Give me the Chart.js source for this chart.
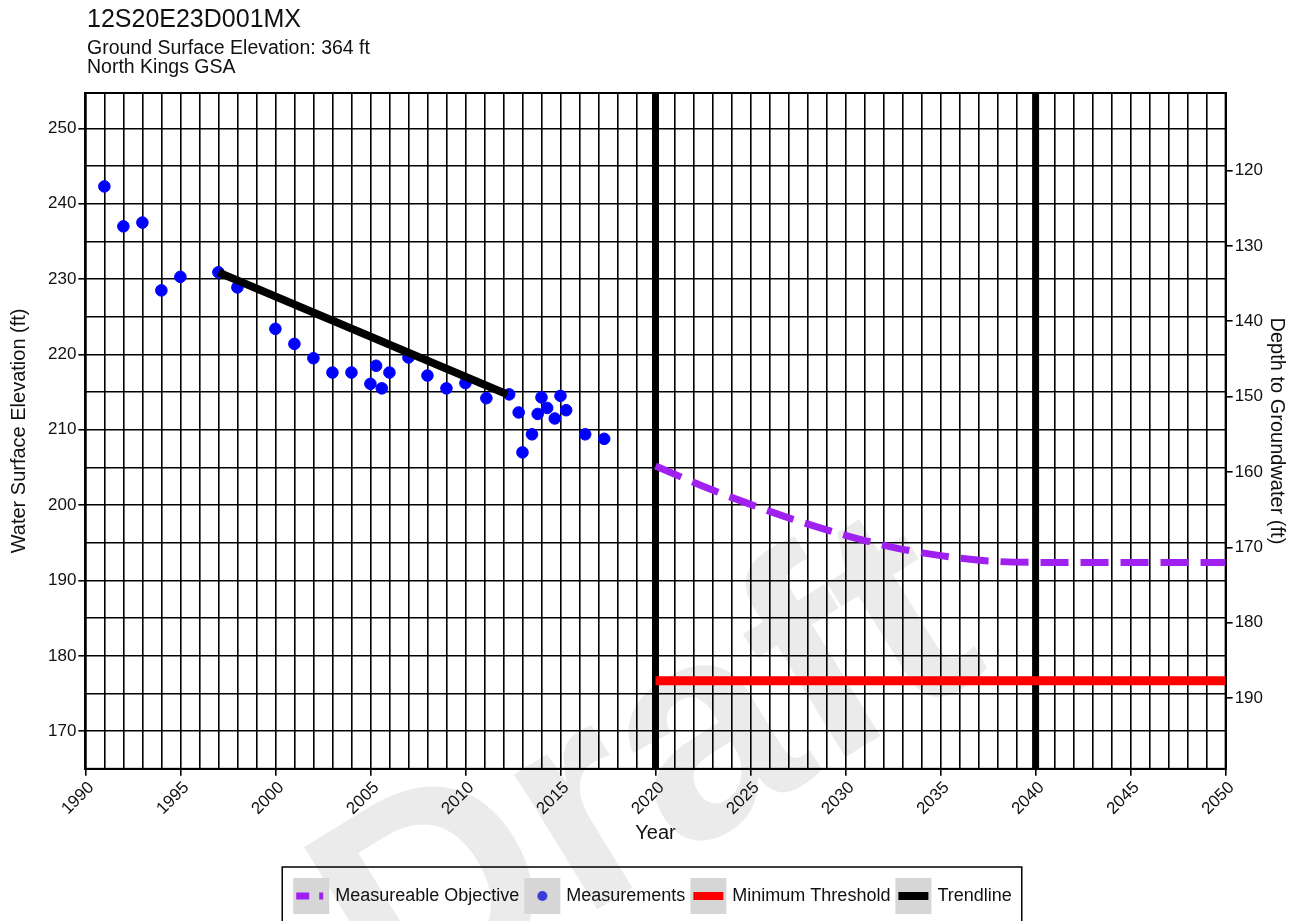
<!DOCTYPE html>
<html>
<head>
<meta charset="utf-8">
<script src="https://cdn.jsdelivr.net/npm/chart.js@4.4.1/dist/chart.umd.min.js"></script>
<style>
  body { margin: 0; background: #fff; }
  #wrap { position: relative; width: 1305px; height: 921px; overflow: hidden; }
  #title { position: absolute; left: 87px; top: 4px; font: 25px "Liberation Sans", Arial, sans-serif; color: #111; }
  #sub { position: absolute; left: 87px; top: 38px; font: 19.5px/19px "Liberation Sans", Arial, sans-serif; color: #111; }
</style>
</head>
<body>
<div id="wrap">
  <canvas id="chart1" width="1305" height="921"></canvas>
  <div id="title">12S20E23D001MX</div>
  <div id="sub">Ground Surface Elevation: 364 ft<br>North Kings GSA</div>
</div>
<script>
// data
var measYears = [1991, 1992, 1993, 1994, 1995, 1997, 1998, 2000, 2001, 2002, 2003, 2004, 2005, 2005.3, 2005.6, 2006, 2007, 2008, 2009, 2010, 2011.1, 2012.3, 2012.8, 2013, 2013.5, 2013.8, 2014, 2014.3, 2014.7, 2015, 2015.3, 2016.3, 2017.3];
var measValues = [242.3, 237.0, 237.5, 228.5, 230.3, 230.9, 228.9, 223.4, 221.4, 219.5, 217.6, 217.6, 216.1, 218.5, 215.5, 217.6, 219.6, 217.2, 215.5, 216.2, 214.2, 214.7, 212.3, 207.0, 209.4, 212.1, 214.3, 212.9, 211.5, 214.5, 212.6, 209.4, 208.8];

var objYears = [2020, 2022.5, 2025, 2027.5, 2030, 2032.5, 2035, 2037.5, 2040, 2045, 2050];
var objValues = [205.2, 202.5, 200.1, 197.9, 196.0, 194.4, 193.3, 192.6, 192.4, 192.4, 192.4];

var thresholdYears = [2020, 2050];
var thresholdValues = [176.7, 176.7];

var trendYears = [1997, 2012.2];
var trendValues = [230.9, 214.7];

var markerYears = [2020, 2040];

var yearMin = 1990, yearMax = 2050;
var elevMin = 165, elevMax = 254.7;
var groundElev = 364.4;
var depthTicks = [120, 130, 140, 150, 160, 170, 180, 190];

function pairs(xs, ys) {
	var out = [];
	for (var i = 0; i < xs.length; i++) {
		out.push({x: xs[i], y: ys[i]});
	}
	return out;
}

var FONT = "'Liberation Sans', Arial, sans-serif";

//small blue dot used as the legend symbol
var dotIcon = document.createElement("canvas");
dotIcon.width = 30;
dotIcon.height = 18;
(function() {
	var c = dotIcon.getContext("2d");
	c.fillStyle = "#3a3ad8";
	c.beginPath();
	c.arc(15, 9, 5, 0, Math.PI * 2);
	c.fill();
})();

//vertical lines for 2020 and 2040
var markerSets = markerYears.map(function(yr) {
	return {
		label: "marker",
		data: [{x: yr, y: elevMin}, {x: yr, y: elevMax}],
		showLine: true,
		borderColor: "#000",
		borderWidth: 7,
		pointRadius: 0,
		order: 4
	};
});

var extras = {
	id: "extras",
	beforeDraw: function(chart) {
		var ctx = chart.ctx;
		ctx.save();
		ctx.translate(650, 780);
		ctx.rotate(-0.55);
		ctx.font = "bold 300px " + FONT;
		ctx.fillStyle = "rgba(0,0,0,0.08)";
		ctx.textAlign = "center";
		ctx.textBaseline = "middle";
		ctx.fillText("Draft", 0, 0);
		ctx.restore();

		//gray squares behind legend symbols
		var legend = chart.legend;
		if (legend && legend.legendHitBoxes) {
			ctx.save();
			ctx.fillStyle = "#d6d6d6";
			legend.legendHitBoxes.forEach(function(b) {
				ctx.fillRect(b.left - 3, b.top + b.height / 2 - 18, 36, 36);
			});
			ctx.restore();
		}
	},
	beforeDatasetsDraw: function(chart) {
		var a = chart.chartArea;
		var ctx = chart.ctx;
		ctx.save();
		ctx.strokeStyle = "#000";
		ctx.lineWidth = 2;
		ctx.strokeRect(a.left, a.top, a.right - a.left, a.bottom - a.top);
		ctx.restore();
	},
	afterDraw: function(chart) {
		var legend = chart.legend;
		if (!legend || !legend.legendHitBoxes.length) return;
		var boxes = legend.legendHitBoxes;
		var l = boxes[0].left, r = 0, t = boxes[0].top, b = 0;
		boxes.forEach(function(h) {
			l = Math.min(l, h.left);
			r = Math.max(r, h.left + h.width);
			t = Math.min(t, h.top);
			b = Math.max(b, h.top + h.height);
		});
		var ctx = chart.ctx;
		ctx.save();
		ctx.strokeStyle = "#000";
		ctx.lineWidth = 1.5;
		ctx.strokeRect(l - 14, t - 20, (r - l) + 24, (b - t) + 42);
		ctx.restore();
	}
};

var ctx = document.getElementById("chart1");

var chart = new Chart(ctx, {
	type: "scatter",
	data: {
		datasets: [
			{
				label: "Measureable Objective",
				data: pairs(objYears, objValues),
				showLine: true,
				borderColor: "#a020f0",
				backgroundColor: "#a020f0",
				borderWidth: 7,
				borderDash: [28, 12],
				cubicInterpolationMode: "monotone",
				pointRadius: 0,
				order: 0
			},
			{
				label: "Measurements",
				data: pairs(measYears, measValues),
				backgroundColor: "#0000ff",
				borderColor: "#0000ff",
				pointRadius: 5.8,
				order: 3
			},
			{
				label: "Minimum Threshold",
				data: pairs(thresholdYears, thresholdValues),
				showLine: true,
				borderColor: "#ff0000",
				backgroundColor: "#ff0000",
				borderWidth: 9,
				pointRadius: 0,
				order: 1
			},
			{
				label: "Trendline",
				data: pairs(trendYears, trendValues),
				showLine: true,
				borderColor: "#000",
				backgroundColor: "#000",
				borderWidth: 8,
				pointRadius: 0,
				order: 2
			}
		].concat(markerSets)
	},
	options: {
		responsive: false,
		animation: false,
		layout: { padding: { top: 93, left: 7, right: 4, bottom: 6 } },
		scales: {
			x: {
				type: "linear",
				min: yearMin,
				max: yearMax,
				afterBuildTicks: function(scale) {
					var t = [];
					for (var v = yearMin; v <= yearMax; v++) t.push({value: v});
					scale.ticks = t;
				},
				ticks: {
					autoSkip: false,
					minRotation: 45,
					maxRotation: 45,
					labelOffset: 6,
					color: "#111",
					font: { family: FONT, size: 17 },
					padding: 2,
					callback: function(v) { return v % 5 === 0 ? String(v) : ""; }
				},
				grid: {
					color: "#000",
					lineWidth: 1.6,
					tickLength: 7,
					tickColor: function(c) { return c.tick && c.tick.value % 5 === 0 ? "#000" : "rgba(0,0,0,0)"; }
				},
				border: { color: "#000", width: 2 },
				title: { display: true, text: "Year", color: "#111", font: { family: FONT, size: 20 }, padding: { top: 0, bottom: 34 } }
			},
			y: {
				position: "left",
				min: elevMin,
				max: elevMax,
				afterBuildTicks: function(scale) {
					var t = [];
					for (var v = 165; v <= 250; v += 5) t.push({value: v});
					scale.ticks = t;
				},
				ticks: {
					autoSkip: false,
					color: "#111",
					font: { family: FONT, size: 17 },
					padding: 2,
					callback: function(v) { return v % 10 === 0 ? String(v) : ""; }
				},
				grid: {
					color: "#000",
					lineWidth: 1.6,
					tickLength: 7,
					tickColor: function(c) { return c.tick && c.tick.value % 10 === 0 ? "#000" : "rgba(0,0,0,0)"; }
				},
				border: { color: "#000", width: 2 },
				title: { display: true, text: "Water Surface Elevation (ft)", color: "#111", font: { family: FONT, size: 20 }, padding: { top: 0, bottom: 15 } }
			},
			y2: {
				position: "right",
				reverse: true,
				min: groundElev - elevMax,
				max: groundElev - elevMin,
				afterBuildTicks: function(scale) {
					scale.ticks = depthTicks.map(function(v) { return {value: v}; });
				},
				ticks: {
					color: "#111",
					font: { family: FONT, size: 17 },
					padding: 2
				},
				grid: { drawOnChartArea: false, tickLength: 7, tickColor: "#000", lineWidth: 1.6 },
				border: { color: "#000", width: 2 },
				title: { display: true, text: "Depth to Groundwater (ft)", color: "#111", font: { family: FONT, size: 20 }, padding: { top: 12, bottom: 0 } }
			}
		},
		plugins: {
			title: { display: false },
			tooltip: { enabled: false },
			legend: {
				position: "bottom",
				labels: {
					usePointStyle: true,
					pointStyleWidth: 30,
					padding: 8,
					color: "#111",
					font: { family: FONT, size: 18 },
					filter: function(item) { return item.text !== "marker"; },
					sort: function(a, b) { return a.datasetIndex - b.datasetIndex; },
					generateLabels: function(chart) {
						var items = Chart.defaults.plugins.legend.labels.generateLabels(chart);
						items.forEach(function(it) {
							if (it.datasetIndex === 0) { it.pointStyle = "line"; it.lineDash = [13, 10, 4, 60]; it.lineWidth = 7; }
							else if (it.datasetIndex === 1) { it.pointStyle = dotIcon; it.lineWidth = 0; }
							else { it.pointStyle = "line"; it.lineWidth = 8; it.lineDash = []; }
						});
						return items;
					}
				}
			}
		}
	},
	plugins: [extras]
});
</script>
</body>
</html>
